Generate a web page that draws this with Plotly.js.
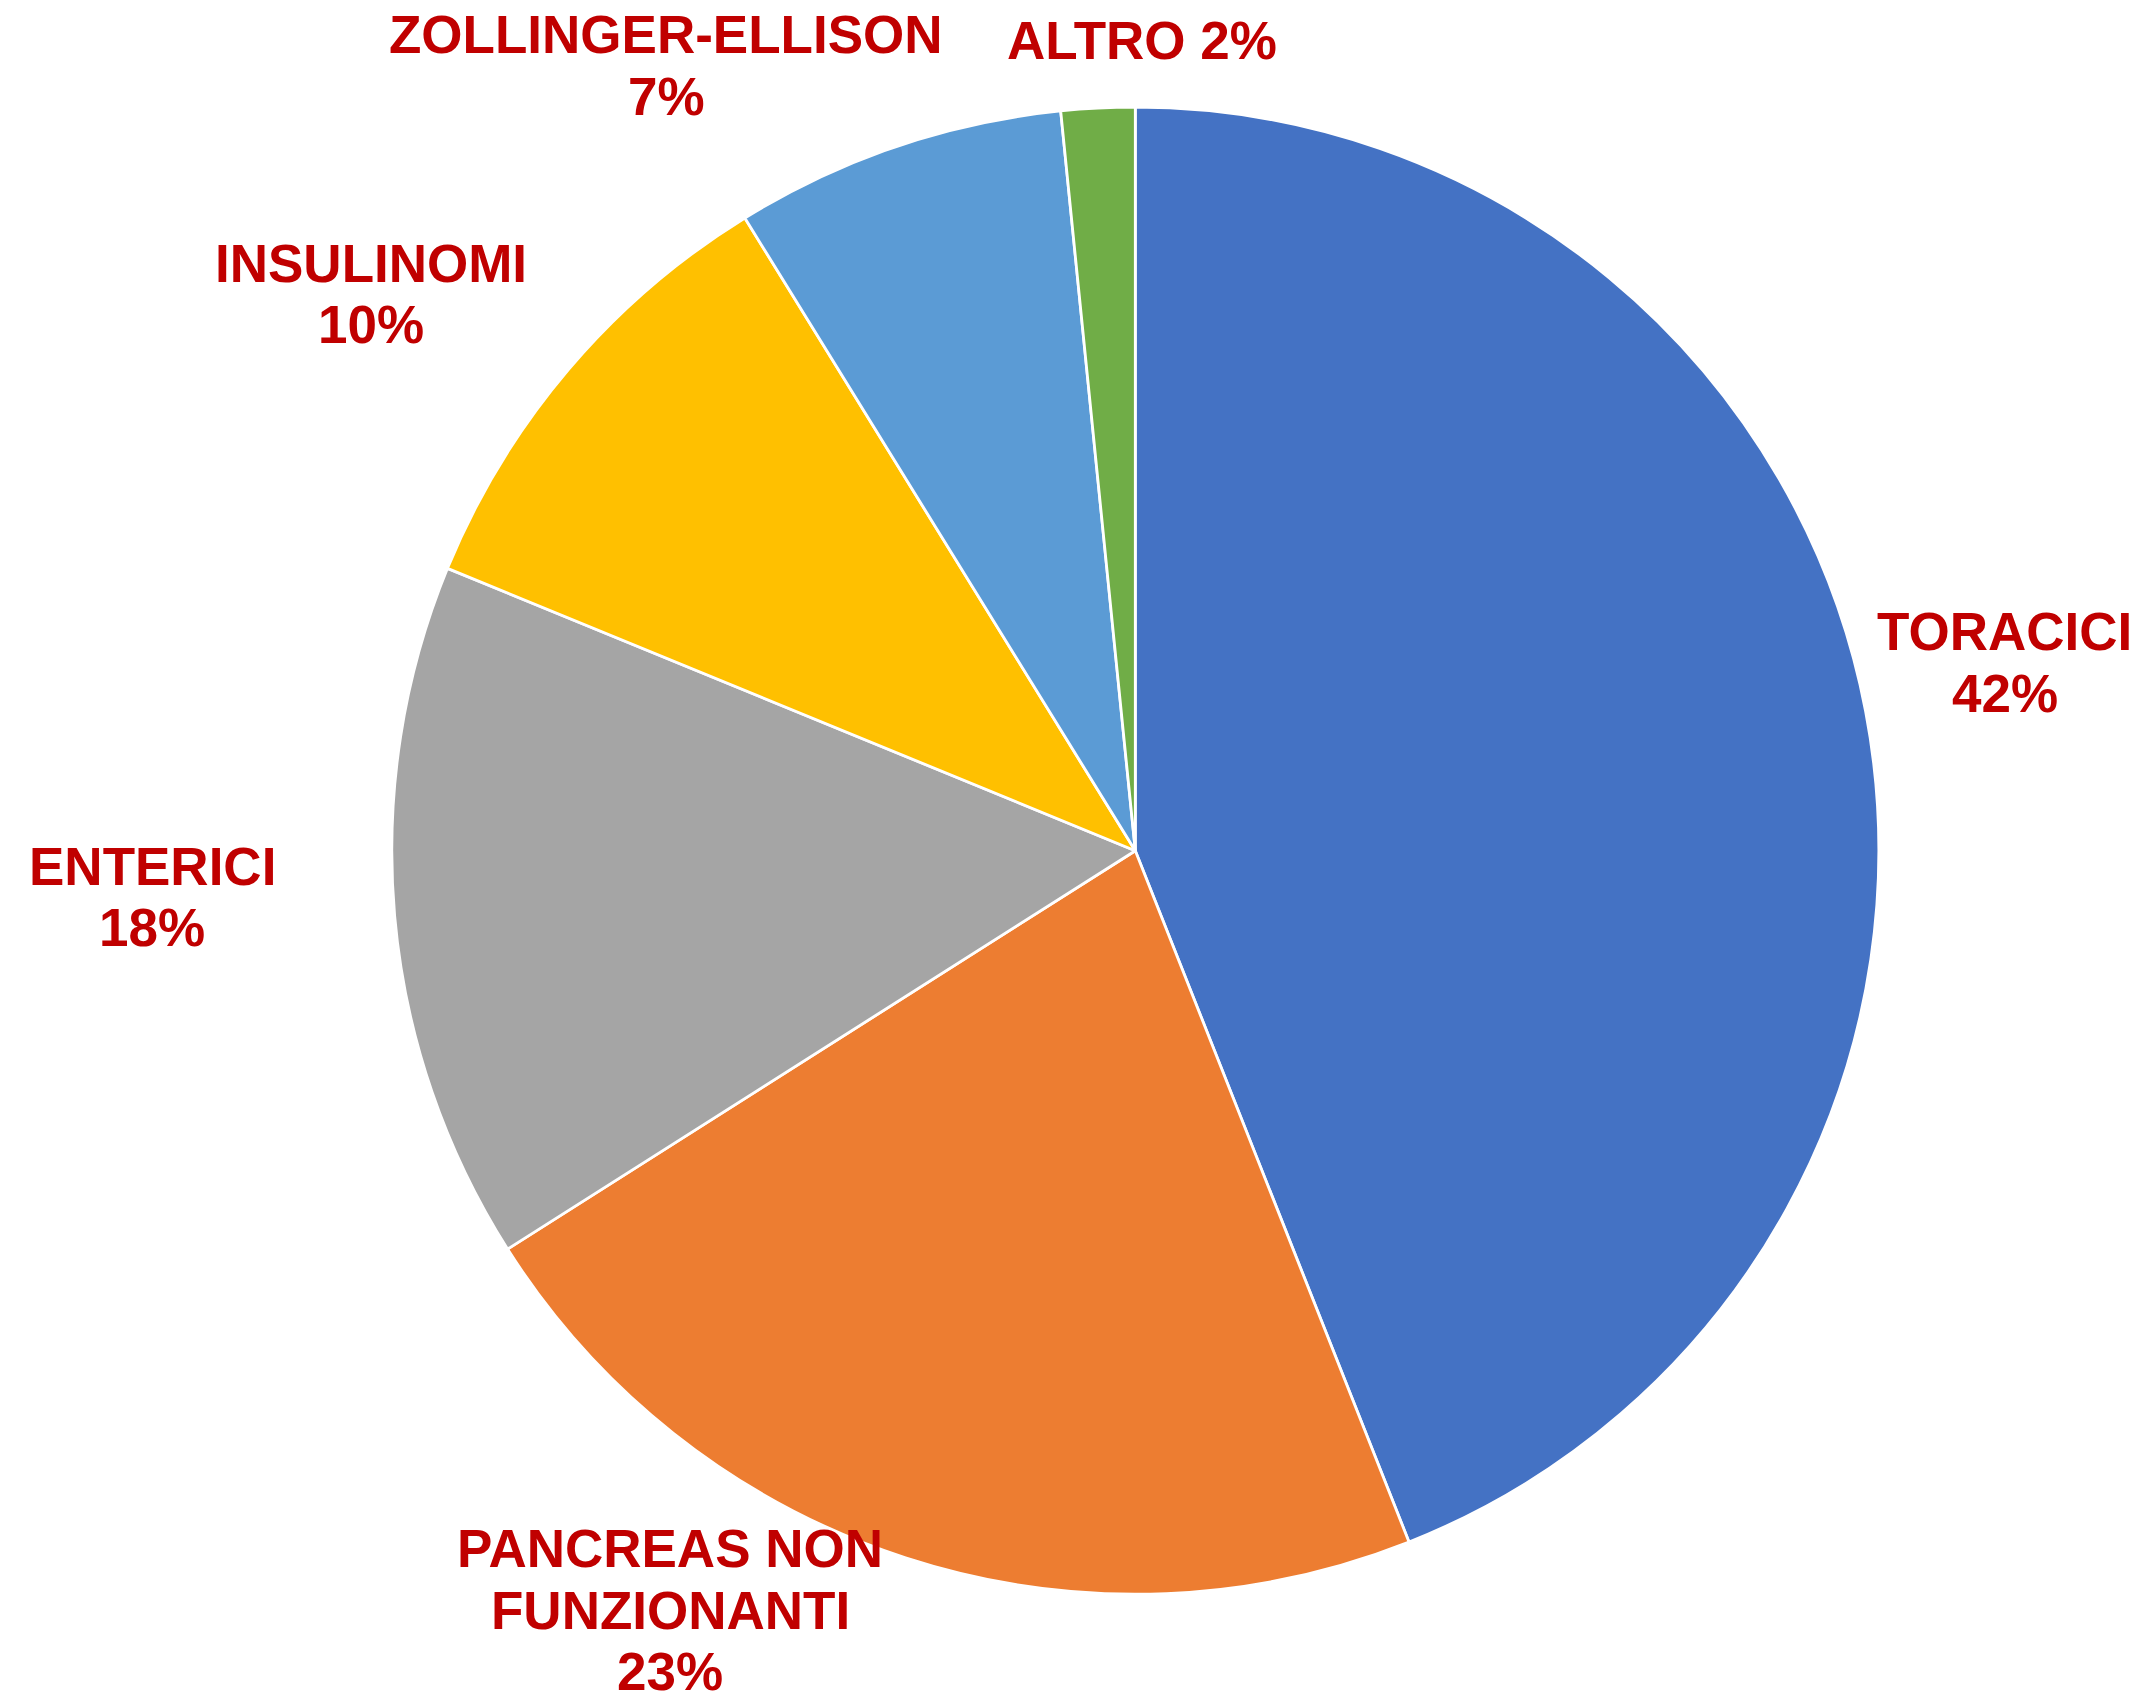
<!DOCTYPE html>
<html>
<head>
<meta charset="utf-8">
<script src="https://cdn.plot.ly/plotly-3.0.1.min.js"></script>
<style>
  html, body { margin: 0; padding: 0; background: #ffffff; }
  #chart { width: 2144px; height: 1697px; }
</style>
</head>
<body>
<div id="chart"></div>
<script>
// ---- data ----
const labels = ["TORACICI", "PANCREAS NON FUNZIONANTI", "ENTERICI", "INSULINOMI", "ZOLLINGER-ELLISON", "ALTRO"];
const values = [44.0, 22.0, 15.2, 10.0, 7.2, 1.6];
const pctLabels = ["42%", "23%", "18%", "10%", "7%", "2%"];

// ---- styles / layout ----
const colors = ["#4472C4", "#ED7D31", "#A5A5A5", "#FFC000", "#5B9BD5", "#70AD47"];
const W = 2144, H = 1697;
const labelColor = "#C00000";
const lineGap = 61.5;
// label block placement (pixel centre of first line), and line arrangement
const labelFormat = [
  { x: 2004.5, y: 631.7, pctOwnLine: true },
  { x: 670, y: 1548.5, pctOwnLine: true, wrapAfter: "NON" },
  { x: 152, y: 866.4, pctOwnLine: true },
  { x: 371, y: 263.4, pctOwnLine: true },
  { x: 666, y: 34.7, pctOwnLine: true },
  { x: 1142, y: 40, pctOwnLine: false }
];

const annotations = [];
labels.forEach((lab, i) => {
  const f = labelFormat[i];
  let lines;
  if (f.wrapAfter) {
    const k = lab.indexOf(f.wrapAfter) + f.wrapAfter.length;
    lines = [lab.slice(0, k).trim(), lab.slice(k).trim()];
  } else {
    lines = [lab];
  }
  if (f.pctOwnLine) lines.push(pctLabels[i]);
  else lines[lines.length - 1] += " " + pctLabels[i];
  lines.forEach((t, j) => {
    annotations.push({
      xref: "paper", yref: "paper",
      x: f.x / W, y: 1 - (f.y + j * lineGap) / H,
      xanchor: "center", yanchor: "middle",
      text: "<b>" + t + "</b>",
      showarrow: false,
      font: { family: "Liberation Sans, Arial, sans-serif", size: 53, color: labelColor }
    });
  });
});

const trace = {
  type: "pie",
  labels: labels,
  values: values,
  sort: false,
  direction: "clockwise",
  rotation: 0,
  textinfo: "none",
  hoverinfo: "label+percent",
  marker: { colors: colors, line: { color: "#ffffff", width: 2.8 } },
  domain: { x: [391.8 / W, 1878.8 / W], y: [1 - 1594.2 / H, 1 - 107.2 / H] },
  showlegend: false
};

const layout = {
  width: W, height: H,
  margin: { l: 0, r: 0, t: 0, b: 0 },
  paper_bgcolor: "#ffffff",
  plot_bgcolor: "#ffffff",
  showlegend: false,
  annotations: annotations
};

Plotly.newPlot("chart", [trace], layout, { staticPlot: true, displayModeBar: false });
</script>
</body>
</html>
